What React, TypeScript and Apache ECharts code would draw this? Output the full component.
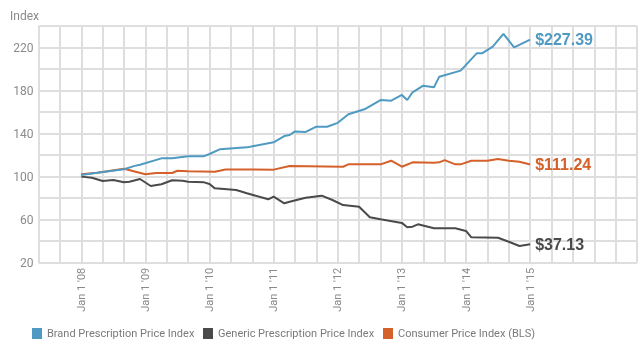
import React, { useEffect, useRef } from "react";
import * as echarts from "echarts";

// Monthly positions "YYYY-MM"; axis starts May 2007 and ends Sep 2016
const yearTicks = ["2008", "2009", "2010", "2011", "2012", "2013", "2014", "2015"];
const yTickLabels = [20, 60, 100, 140, 180, 220];

const brandName = "Brand Prescription Price Index";
const genericName = "Generic Prescription Price Index";
const cpiName = "Consumer Price Index (BLS)";

const brandDates = ["2008-01", "2008-04", "2008-09", "2008-11", "2008-12", "2009-04", "2009-06", "2009-09", "2009-12", "2010-01", "2010-03", "2010-08", "2011-01", "2011-03", "2011-04", "2011-05", "2011-07", "2011-09", "2011-11", "2012-01", "2012-03", "2012-06", "2012-09", "2012-11", "2013-01", "2013-02", "2013-03", "2013-05", "2013-07", "2013-08", "2013-12", "2014-03", "2014-04", "2014-06", "2014-08", "2014-10", "2015-01"];
const brandValues = [101.5, 103.5, 106.8, 110, 111, 117, 117, 119, 119, 121, 125.5, 127.2, 131.9, 137.7, 138.7, 142, 141.5, 146.4, 146.4, 150, 158, 162.6, 171.2, 170.6, 175.9, 171.2, 178.4, 184.5, 183, 192.9, 198.5, 214.6, 214.6, 220.8, 232.6, 220.2, 227.39];

const cpiDates = ["2008-01", "2008-04", "2008-09", "2009-01", "2009-03", "2009-06", "2009-07", "2009-09", "2010-02", "2010-04", "2011-01", "2011-04", "2012-02", "2012-03", "2012-09", "2012-11", "2013-01", "2013-03", "2013-07", "2013-08", "2013-09", "2013-11", "2013-12", "2014-02", "2014-05", "2014-07", "2014-09", "2014-11", "2015-01"];
const cpiValues = [102.2, 103.6, 107.4, 102.2, 103.4, 103.4, 105.5, 105, 104.6, 106.7, 106.5, 109.9, 109.2, 111.4, 111.4, 114.8, 109.2, 113.3, 112.9, 113.3, 115.4, 111.4, 111.4, 114.8, 114.8, 116.4, 114.8, 113.9, 111.24];

const genericDates = ["2008-01", "2008-03", "2008-05", "2008-07", "2008-09", "2008-10", "2008-12", "2009-02", "2009-04", "2009-06", "2009-08", "2009-09", "2009-12", "2010-01", "2010-02", "2010-06", "2010-08", "2010-12", "2011-01", "2011-03", "2011-04", "2011-07", "2011-10", "2011-12", "2012-02", "2012-05", "2012-07", "2012-09", "2013-01", "2013-02", "2013-03", "2013-04", "2013-07", "2013-11", "2014-01", "2014-02", "2014-07", "2014-09", "2014-11", "2015-01"];
const genericValues = [100, 99, 95.9, 96.9, 94.7, 95.3, 97.8, 91.3, 92.9, 96.6, 96.2, 95.3, 94.7, 93.1, 89.1, 87.6, 84.5, 78.9, 81.4, 75.2, 76.7, 80.4, 82.3, 78.3, 73.6, 72, 62.2, 60.3, 57, 53, 53.5, 55.7, 52, 52, 49.5, 43.6, 43.2, 39.5, 35.5, 37.13];

const AXIS_START = "2007-05";
const AXIS_END = "2016-09";

const toIdx = (s: string) => {
  const [y, m] = s.split("-").map(Number);
  const [y0, m0] = AXIS_START.split("-").map(Number);
  return (y - y0) * 12 + (m - m0);
};

const BLUE = "#4f9ac2";
const DARK = "#4a4a4a";
const ORANGE = "#d5602a";
const GRID = "#dedede";
const LABEL = "#8a8a8a";
const NARROW = "Roboto, 'Liberation Sans', sans-serif";
const BOLD = "'Liberation Sans', Arial, sans-serif";

export default function App() {
  const ref = useRef<HTMLDivElement>(null);
  useEffect(() => {
    if (!ref.current) return;
    const chart = echarts.init(ref.current, undefined, { renderer: "svg" });
    const tickMap: Record<number, string> = {};
    yearTicks.forEach((y) => {
      tickMap[toIdx(`${y}-01`)] = `Jan 1 '${y.slice(2)}`;
    });
    const mk = (name: string, dates: string[], values: number[], color: string) => ({
      name,
      type: "line",
      data: dates.map((d, i) => [toIdx(d), values[i]]),
      showSymbol: false,
      symbol: "none",
      lineStyle: { color, width: 2 },
      itemStyle: { color },
      endLabel: {
        show: true,
        formatter: (p: any) => "$" + p.value[1].toFixed(2),
        color,
        fontFamily: BOLD,
        fontWeight: "bold",
        fontSize: 16,
        distance: 5,
      },
    });
    const legendBase = {
      icon: "rect",
      itemWidth: 10,
      itemHeight: 11,
      itemGap: 0,
      padding: 0,
      top: 328,
      textStyle: { color: "#7a7a7a", fontSize: 11, fontFamily: NARROW },
    };
    chart.setOption({
      animation: false,
      grid: { left: 38.5, top: 26, right: 4, bottom: 86.3 },
      xAxis: {
        type: "value",
        min: 0,
        max: toIdx(AXIS_END),
        interval: 4,
        axisLine: { show: false },
        axisTick: { show: false },
        splitLine: { show: true, lineStyle: { color: GRID, width: 2 } },
        axisLabel: {
          rotate: 90,
          margin: 5,
          color: LABEL,
          fontSize: 11,
          fontFamily: NARROW,
          showMinLabel: true,
          showMaxLabel: true,
          formatter: (v: number) => tickMap[v] ?? "",
        },
      },
      yAxis: {
        type: "value",
        min: 20,
        max: 240,
        interval: 20,
        axisLine: { show: false },
        axisTick: { show: false },
        splitLine: { show: true, lineStyle: { color: GRID, width: 2 } },
        axisLabel: {
          margin: 5,
          color: LABEL,
          fontSize: 12,
          fontFamily: NARROW,
          formatter: (v: number) => (yTickLabels.includes(v) ? String(v) : ""),
        },
      },
      legend: [
        { ...legendBase, left: 32, data: [brandName] },
        { ...legendBase, left: 203, data: [genericName] },
        { ...legendBase, left: 383, data: [cpiName] },
      ],
      graphic: [
        {
          type: "text",
          left: 10,
          top: 10,
          style: { text: "Index", fill: LABEL, fontSize: 12, fontFamily: NARROW },
        },
      ],
      series: [
        mk(cpiName, cpiDates, cpiValues, ORANGE),
        mk(genericName, genericDates, genericValues, DARK),
        mk(brandName, brandDates, brandValues, BLUE),
      ],
    });
    return () => chart.dispose();
  }, []);
  return (
    <div
      ref={ref}
      style={{ position: "fixed", left: 0, top: 0, width: 641, height: 349 }}
    />
  );
}
